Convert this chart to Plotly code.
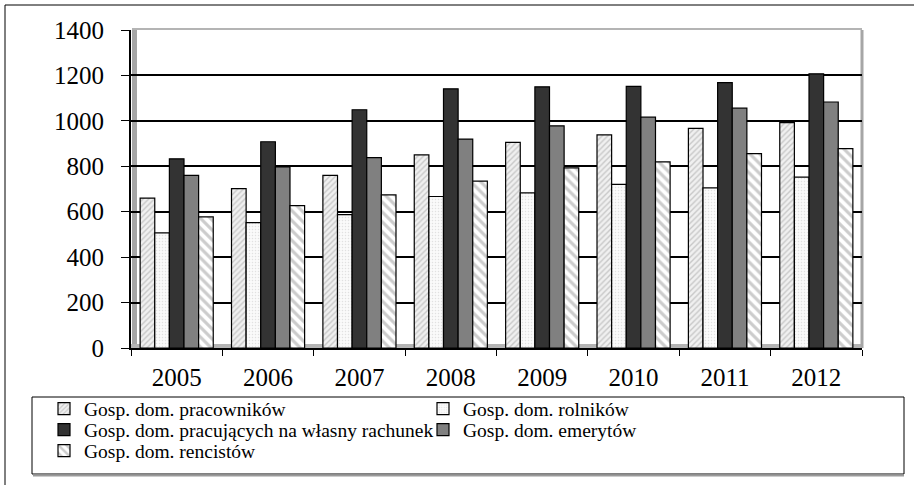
import plotly.graph_objects as go

years = ["2005", "2006", "2007", "2008", "2009", "2010", "2011", "2012"]
series_names = [
    "Gosp. dom. pracowników",
    "Gosp. dom. rolników",
    "Gosp. dom. pracujących na własny rachunek",
    "Gosp. dom. emerytów",
    "Gosp. dom. rencistów",
]
pracownikow = [660, 702, 760, 850, 905, 938, 967, 992]
rolnikow = [507, 552, 587, 667, 683, 720, 705, 752]
wlasny = [833, 908, 1049, 1141, 1150, 1152, 1168, 1207]
emerytow = [760, 797, 838, 920, 978, 1016, 1056, 1083]
rencistow = [577, 627, 674, 735, 793, 819, 856, 878]
y_ticks = [0, 200, 400, 600, 800, 1000, 1200, 1400]

W, H = 914, 485
ML, MR, MT, MB = 131, 52, 30, 137
PW = W - ML - MR
PH = H - MT - MB


def px2x(px):
    return (px - ML) / PW


def py2y(py):
    return (H - MB - py) / PH


FONT = "Liberation Serif, Times New Roman, serif"

styles = [
    dict(color="#e6e6e6", pattern=dict(shape="/", fgcolor="#a0a0a0", bgcolor="#f0f0f0", size=4, solidity=0.35)),
    dict(color="#f7f7f7", pattern=dict(shape=".", fgcolor="#c8c8c8", bgcolor="#fafafa", size=3, solidity=0.2)),
    dict(color="#333333"),
    dict(color="#808080"),
    dict(color="#ffffff", pattern=dict(shape="\\", fgcolor="#9a9a9a", bgcolor="#ffffff", size=7, solidity=0.45)),
]
values = [pracownikow, rolnikow, wlasny, emerytow, rencistow]
legend_ids = ["legend", "legend", "legend2", "legend2", "legend3"]

fig = go.Figure()
for name, vals, st, lg in zip(series_names, values, styles, legend_ids):
    marker = dict(color=st["color"], line=dict(color="#000000", width=1.2))
    if "pattern" in st:
        marker["pattern"] = st["pattern"]
    fig.add_trace(go.Bar(x=years, y=vals, name=name, marker=marker, legend=lg))

shapes = [
    # outer frame
    dict(type="rect", xref="paper", yref="paper",
         x0=px2x(5), x1=px2x(925), y0=py2y(495), y1=py2y(5),
         line=dict(color="#000000", width=1), fillcolor="rgba(0,0,0,0)", layer="below"),
    # left wall shading
    dict(type="rect", xref="paper", yref="paper",
         x0=px2x(132), x1=px2x(137), y0=0, y1=1,
         line=dict(width=0), fillcolor="#a6a6a6", layer="below"),
    # top wall shading
    dict(type="rect", xref="paper", yref="paper",
         x0=px2x(132), x1=1, y0=1, y1=py2y(28),
         line=dict(width=0), fillcolor="#b4b4b4", layer="below"),
    # floor shading
    dict(type="rect", xref="paper", yref="paper",
         x0=0, x1=1, y0=0, y1=py2y(344),
         line=dict(width=0), fillcolor="#b4b4b4", layer="below"),
    # right wall edge
    dict(type="line", xref="paper", yref="paper",
         x0=1, x1=1, y0=0, y1=1,
         line=dict(color="#a6a6a6", width=3), layer="below"),
    # legend box
    dict(type="rect", xref="paper", yref="paper",
         x0=px2x(32), x1=px2x(904), y0=py2y(474), y1=py2y(397),
         line=dict(color="#000000", width=1), fillcolor="rgba(0,0,0,0)"),
    dict(type="line", xref="paper", yref="paper",
         x0=px2x(33), x1=px2x(904), y0=py2y(475.5), y1=py2y(475.5),
         line=dict(color="#9a9a9a", width=2)),
]

row_centers = [409, 430, 451]


def legend_row(py):
    return dict(
        orientation="h", xref="paper", yref="paper",
        x=px2x(44), y=py2y(py), xanchor="left", yanchor="middle",
        font=dict(family=FONT, size=19.5, color="#000000"),
        entrywidth=334, entrywidthmode="pixels",
        bgcolor="rgba(0,0,0,0)", borderwidth=0,
        traceorder="normal", tracegroupgap=0,
    )


fig.update_layout(
    width=W, height=H, autosize=False,
    margin=dict(l=ML, r=MR, t=MT, b=MB, pad=0, autoexpand=False),
    paper_bgcolor="#ffffff", plot_bgcolor="#ffffff",
    font=dict(family=FONT, color="#000000"),
    barmode="group", bargap=0.2, bargroupgap=0.0,
    shapes=shapes,
    showlegend=True,
    legend=legend_row(row_centers[0]),
    legend2=legend_row(row_centers[1]),
    legend3=legend_row(row_centers[2]),
)
fig.update_xaxes(
    type="category", showline=True, linecolor="#000000", linewidth=2,
    ticks="outside", tickson="boundaries", ticklen=6, tickwidth=1, tickcolor="#000000",
    ticklabelstandoff=6,
    tickfont=dict(family=FONT, size=25, color="#000000"),
    showgrid=False, automargin=False,
)
fig.update_yaxes(
    range=[0, 1400], tickvals=y_ticks, ticktext=[str(v) for v in y_ticks],
    showgrid=True, gridcolor="#000000", gridwidth=2,
    showline=True, linecolor="#000000", linewidth=2,
    ticks="outside", ticklen=8, tickwidth=1, tickcolor="#000000",
    ticklabelstandoff=12,
    tickfont=dict(family=FONT, size=25, color="#000000"),
    zeroline=False, automargin=False,
)

fig.write_html(
    "out.html",
    config={"responsive": False, "displayModeBar": False},
    post_script="document.body.style.margin='0px';",
)
